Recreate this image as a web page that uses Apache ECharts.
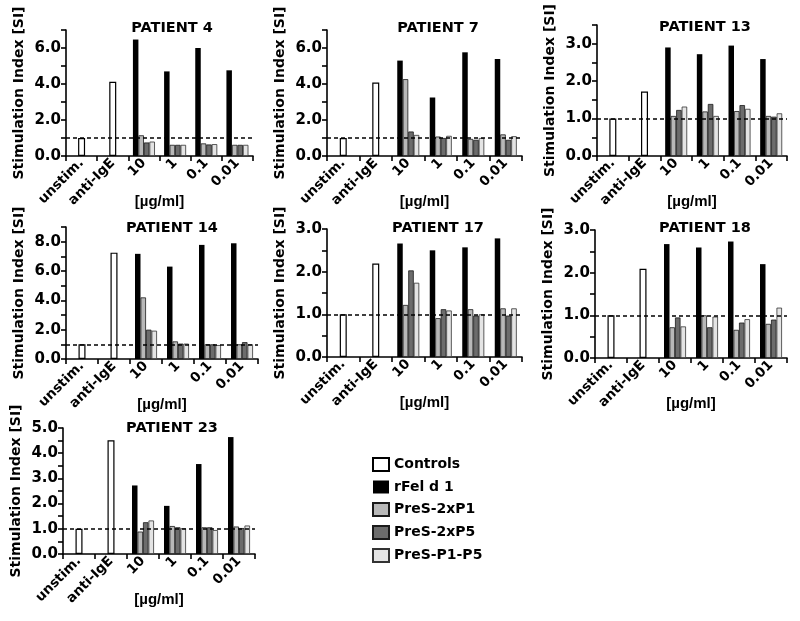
<!DOCTYPE html>
<html>
<head>
<meta charset="utf-8">
<script src="https://cdn.jsdelivr.net/npm/echarts@6/dist/echarts.min.js"></script>
<style>
html,body{margin:0;padding:0;background:#fff;}
#c{width:800px;height:621px;}
</style>
</head>
<body>
<div id="c"></div>
<script>
const categories = ['unstim.', 'anti-IgE', '10', '1', '0.1', '0.01'];
const patientNames = ['PATIENT 4','PATIENT 7','PATIENT 13','PATIENT 14','PATIENT 17','PATIENT 18','PATIENT 23'];
const seriesNames = ['Controls','rFel d 1','PreS-2xP1','PreS-2xP5','PreS-P1-P5'];
// controls: [unstim., anti-IgE]
const controls = [[1.0,4.12],[1.0,4.08],[1.0,1.72],[1.0,7.25],[1.0,2.19],[1.0,2.09],[1.0,4.51]];
// concentration groups: [10, 1, 0.1, 0.01]
const rFel = [[6.47,4.7,6.0,4.76],[5.3,3.25,5.76,5.39],[2.9,2.72,2.95,2.59],[7.17,6.3,7.78,7.89],[2.66,2.5,2.57,2.78],[2.67,2.59,2.73,2.2],[2.72,1.91,3.57,4.64]];
const preS2xP1 = [[1.15,0.62,0.7,0.62],[4.27,1.08,0.95,1.2],[1.07,1.19,1.2,1.07],[4.2,1.2,1.0,1.0],[1.22,0.91,1.12,1.14],[0.72,1.0,0.66,0.8],[0.89,1.11,1.06,1.09]];
const preS2xP5 = [[0.75,0.62,0.64,0.62],[1.36,1.0,0.9,0.9],[1.23,1.39,1.36,1.05],[2.0,1.05,1.0,1.15],[2.03,1.12,0.97,0.97],[0.95,0.72,0.83,0.9],[1.26,1.06,1.06,1.03]];
const preSP1P5 = [[0.8,0.62,0.66,0.62],[1.17,1.12,1.0,1.1],[1.32,1.07,1.26,1.14],[1.93,1.05,0.95,1.0],[1.74,1.09,1.0,1.14],[0.74,0.97,0.91,1.18],[1.33,1.02,0.95,1.13]];
const yMax = [7, 7, 3.5, 9, 3, 3, 5];
const tickStep = [1, 1, 0.5, 1, 0.5, 0.5, 0.5];
const labelStep = [2, 2, 1, 2, 1, 1, 1];
const thresholdValue = 1.0;

// layout (pixels)
const grids = [
  {left:66, top:30, width:187, height:126},
  {left:327, top:30, width:195, height:126},
  {left:597, top:25, width:190, height:131},
  {left:66, top:227, width:192, height:132},
  {left:327, top:229, width:195, height:128},
  {left:595, top:230, width:192, height:128},
  {left:63, top:428, width:192, height:126}
];
const titlePos = [[172,21],[438,21],[705,20],[172,221],[438,221],[705,221],[172,421]];

const FONT = 'DejaVu Sans, sans-serif';
const FONT2 = 'Liberation Sans, Arial, sans-serif';
const colors = ['#ffffff','#000000','#b8b8b8','#6c6c6c','#e4e4e4'];
const borders = ['#000','#000','#1a1a1a','#1a1a1a','#333'];

const xAxes = [], yAxes = [], series = [], titles = [];
patientNames.forEach((name, i) => {
  const lineStyle = {color:'#000', width:1.6};
  xAxes.push({
    type:'category', gridIndex:i, data:categories,
    axisLine:{lineStyle}, axisTick:{show:true, length:5, lineStyle},
    axisLabel:{rotate:45, interval:0, margin:5, color:'#000', fontWeight:'bold', fontSize:13.5, fontFamily:FONT},
    name:'[µg/ml]', nameLocation:'middle', nameGap:38, nameMoveOverlap:false,
    nameTextStyle:{color:'#000', fontWeight:'bold', fontSize:15, fontFamily:FONT2}
  });
  xAxes.push({type:'category', gridIndex:i, data:categories, show:false});
  const ls = labelStep[i];
  yAxes.push({
    type:'value', gridIndex:i, min:0, max:yMax[i], interval:tickStep[i],
    axisLine:{show:true, lineStyle}, axisTick:{show:true, length:5, lineStyle},
    splitLine:{show:false},
    axisLabel:{color:'#000', fontWeight:'bold', fontSize:15, fontFamily:FONT, margin:5,
      formatter: v => (Math.abs(v/ls - Math.round(v/ls)) < 1e-6 ? v.toFixed(1) : '')},
    name:'Stimulation Index [SI]', nameLocation:'middle', nameGap:40, nameMoveOverlap:false,
    nameTextStyle:{color:'#000', fontWeight:'bold', fontSize:14, fontFamily:FONT}
  });
  titles.push({text:name, left:titlePos[i][0], top:titlePos[i][1], textAlign:'center', padding:0,
    textStyle:{color:'#000', fontWeight:'bold', fontSize:14.5, fontFamily:FONT}});
  series.push({
    name:seriesNames[0], type:'bar', xAxisIndex:2*i+1, yAxisIndex:i, barWidth:7,
    data:[controls[i][0], controls[i][1], '-', '-', '-', '-'],
    itemStyle:{color:colors[0], borderColor:borders[0], borderWidth:1.2}
  });
  const groups = [rFel[i], preS2xP1[i], preS2xP5[i], preSP1P5[i]];
  groups.forEach((vals, k) => {
    const s = {
      name:seriesNames[k+1], type:'bar', xAxisIndex:2*i, yAxisIndex:i, barWidth:5.5, barGap:'0%',
      data:['-','-'].concat(vals),
      itemStyle:{color:colors[k+1], borderColor:borders[k+1], borderWidth:k===0?0:0.8}
    };
    if (k === 3) {
      s.markLine = {silent:true, symbol:'none', label:{show:false},
        lineStyle:{color:'#000', type:[4,3], width:1.5},
        data:[{yAxis:thresholdValue}]};
    }
    series.push(s);
  });
});

const chart = echarts.init(document.getElementById('c'));
chart.setOption({
  animation:false,
  backgroundColor:'#fff',
  title:titles,
  grid:grids,
  xAxis:xAxes,
  yAxis:yAxes,
  legend:{
    orient:'vertical', left:367, top:452, itemWidth:16, itemHeight:13, itemGap:8,
    data:seriesNames, icon:'rect',
    textStyle:{color:'#000', fontWeight:'bold', fontSize:14, fontFamily:FONT}
  },
  series:series
});
</script>
</body>
</html>
